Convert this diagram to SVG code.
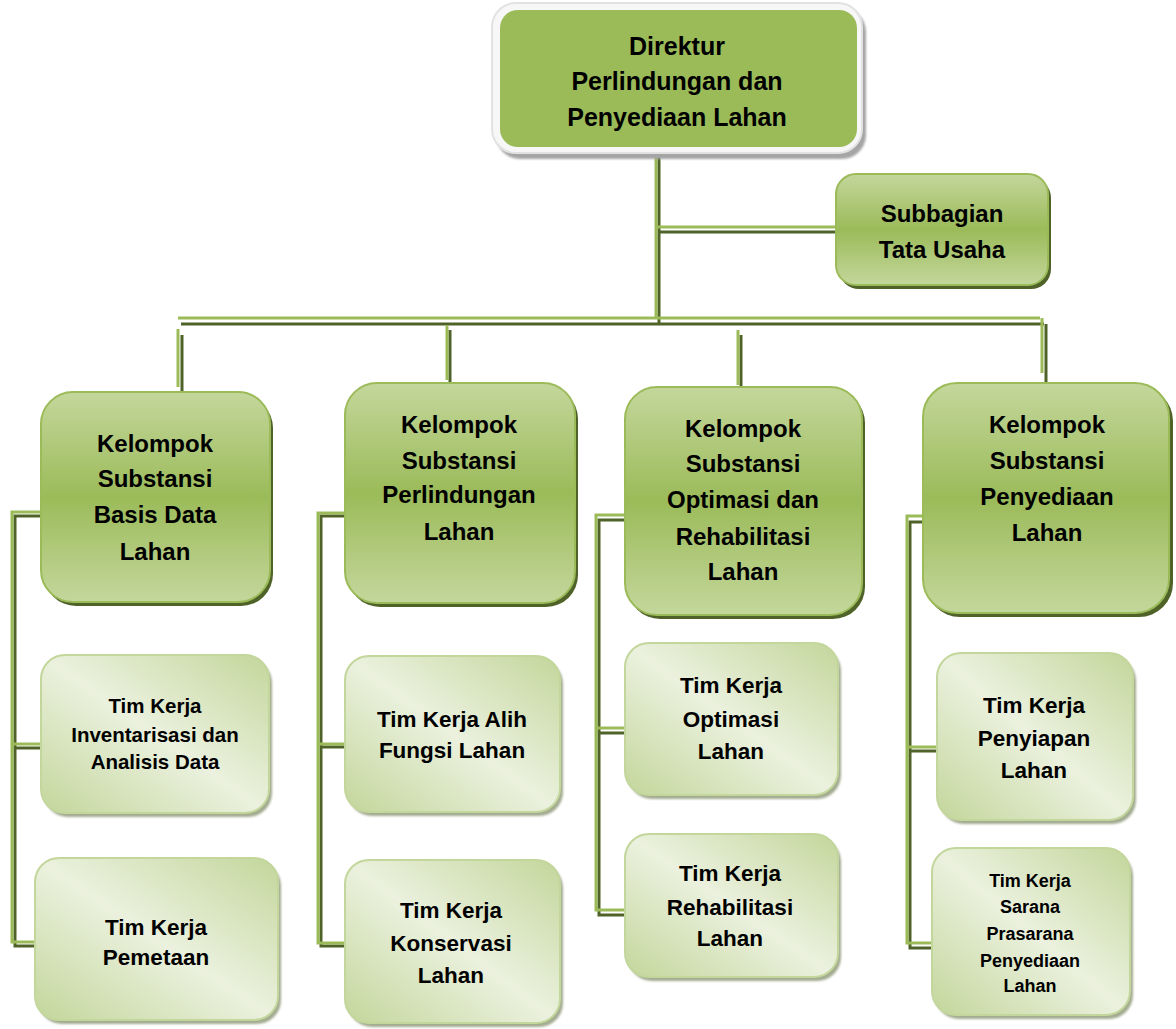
<svg xmlns="http://www.w3.org/2000/svg" width="1176" height="1029" viewBox="0 0 1176 1029">
<defs>
<linearGradient id="gK" x1="0" y1="0" x2="0" y2="1">
<stop offset="0" stop-color="#c4d79c"/>
<stop offset="0.5" stop-color="#9bbb59"/>
<stop offset="1" stop-color="#c4d79c"/>
</linearGradient>
<linearGradient id="gT" x1="1" y1="0" x2="0" y2="1">
<stop offset="0" stop-color="#c3d69b"/>
<stop offset="0.5" stop-color="#ebf1de"/>
<stop offset="1" stop-color="#c3d69b"/>
</linearGradient>
<filter id="blur" x="-10%" y="-10%" width="120%" height="120%"><feGaussianBlur stdDeviation="1"/></filter>
</defs>
<style>
text{font-family:"Liberation Sans",Arial,sans-serif;font-weight:bold;fill:#000;text-anchor:middle}
.k{fill:url(#gK);stroke:#9bbb59;stroke-width:2}
.ks{fill:#4f6228}
.t{fill:url(#gT);stroke:#c3d69b;stroke-width:2}
.ts{fill:#a3ab90;filter:url(#blur)}
.lt{fill:none;stroke:#9bbb59;stroke-width:3}
.dk{fill:none;stroke:#4f6228;stroke-width:3}
.f25{font-size:25px}.f24{font-size:24px}.f22{font-size:22.5px}.f20{font-size:20.5px}.f18{font-size:18px}
</style>

<g id="connectors">
<g class="dk">
<path d="M659,151 V324"/>
<path d="M659,232 H836"/>
<path d="M181,324 H1044"/>
<path d="M182,335 V392"/>
<path d="M450,330 V386"/>
<path d="M741,335 V392"/>
<path d="M1046,324 V383"/>
<path d="M43,516 H15 V946 H36 M15,748 H41"/>
<path d="M345,516 H321 V946 H345 M321,747 H345"/>
<path d="M625,520 H599 V915 H625 M599,733 H625"/>
<path d="M923,522 H910 V948 H932 M910,751 H937"/>
</g>
<g class="lt">
<path d="M656,147 V318"/>
<path d="M656,227 H836"/>
<path d="M178,318 H1040"/>
<path d="M178,329 V387"/>
<path d="M447,325 V380"/>
<path d="M738,330 V385"/>
<path d="M1042,318 V373"/>
<path d="M41,512 H12 V942 H36 M12,744 H41"/>
<path d="M345,513 H318 V943 H345 M318,744 H345"/>
<path d="M625,515 H596 V910 H625 M596,728 H625"/>
<path d="M923,516 H907 V943 H932 M907,747 H937"/>
</g>
</g>

<g id="direktur">
<rect x="496" y="8" width="370" height="151" rx="24" fill="#a5a5a5" filter="url(#blur)"/>
<rect x="492" y="3" width="370" height="150" rx="24" fill="#f7f7f7" stroke="#e2e2e2" stroke-width="2"/>
<rect x="500" y="10" width="357" height="137" rx="18" fill="#9bbb59"/>
<text class="f25" x="677" y="55">Direktur</text>
<text class="f25" x="677" y="90">Perlindungan dan</text>
<text class="f25" x="677" y="126">Penyediaan Lahan</text>
</g>

<g id="subbagian">
<rect class="ks" x="839" y="178" width="212" height="111" rx="20"/>
<rect class="k" x="836" y="174" width="212" height="111" rx="20"/>
<text class="f24" x="942" y="222">Subbagian</text>
<text class="f24" x="942" y="258">Tata Usaha</text>
</g>

<g id="kelompok-basis-data">
<rect class="ks" x="44" y="396" width="229" height="210" rx="32"/>
<rect class="k" x="41" y="392" width="229" height="210" rx="32"/>
<text class="f24" x="155" y="452">Kelompok</text>
<text class="f24" x="155" y="487">Substansi</text>
<text class="f24" x="155" y="523">Basis Data</text>
<text class="f24" x="155" y="560">Lahan</text>
</g>

<g id="kelompok-perlindungan">
<rect class="ks" x="348" y="387" width="230" height="220" rx="32"/>
<rect class="k" x="345" y="383" width="230" height="220" rx="32"/>
<text class="f24" x="459" y="433">Kelompok</text>
<text class="f24" x="459" y="469">Substansi</text>
<text class="f24" x="459" y="503">Perlindungan</text>
<text class="f24" x="459" y="540">Lahan</text>
</g>

<g id="kelompok-optimasi">
<rect class="ks" x="628" y="391" width="237" height="228" rx="32"/>
<rect class="k" x="625" y="387" width="237" height="228" rx="32"/>
<text class="f24" x="743" y="437">Kelompok</text>
<text class="f24" x="743" y="472">Substansi</text>
<text class="f24" x="743" y="508">Optimasi dan</text>
<text class="f24" x="743" y="545">Rehabilitasi</text>
<text class="f24" x="743" y="580">Lahan</text>
</g>

<g id="kelompok-penyediaan">
<rect class="ks" x="926" y="387" width="247" height="230" rx="34"/>
<rect class="k" x="923" y="383" width="246" height="230" rx="34"/>
<text class="f24" x="1047" y="433">Kelompok</text>
<text class="f24" x="1047" y="469">Substansi</text>
<text class="f24" x="1047" y="505">Penyediaan</text>
<text class="f24" x="1047" y="541">Lahan</text>
</g>

<g id="tim-inventarisasi">
<rect class="ts" x="44" y="659" width="228" height="158" rx="24"/>
<rect class="t" x="41" y="655" width="228" height="158" rx="24"/>
<text class="f20" x="155" y="713">Tim Kerja</text>
<text class="f20" x="155" y="742">Inventarisasi dan</text>
<text class="f20" x="155" y="769">Analisis Data</text>
</g>

<g id="tim-pemetaan">
<rect class="ts" x="38" y="862" width="243" height="162" rx="24"/>
<rect class="t" x="35" y="858" width="243" height="162" rx="24"/>
<text class="f22" x="156" y="935">Tim Kerja</text>
<text class="f22" x="156" y="965">Pemetaan</text>
</g>

<g id="tim-alih-fungsi">
<rect class="ts" x="348" y="660" width="215" height="156" rx="24"/>
<rect class="t" x="345" y="656" width="215" height="156" rx="24"/>
<text class="f22" x="452" y="727">Tim Kerja Alih</text>
<text class="f22" x="452" y="758">Fungsi Lahan</text>
</g>

<g id="tim-konservasi">
<rect class="ts" x="348" y="864" width="215" height="163" rx="24"/>
<rect class="t" x="345" y="860" width="215" height="163" rx="24"/>
<text class="f22" x="451" y="918">Tim Kerja</text>
<text class="f22" x="451" y="951">Konservasi</text>
<text class="f22" x="451" y="983">Lahan</text>
</g>

<g id="tim-optimasi">
<rect class="ts" x="628" y="647" width="213" height="152" rx="24"/>
<rect class="t" x="625" y="643" width="213" height="152" rx="24"/>
<text class="f22" x="731" y="693">Tim Kerja</text>
<text class="f22" x="731" y="727">Optimasi</text>
<text class="f22" x="731" y="759">Lahan</text>
</g>

<g id="tim-rehabilitasi">
<rect class="ts" x="628" y="838" width="213" height="143" rx="24"/>
<rect class="t" x="625" y="834" width="213" height="143" rx="24"/>
<text class="f22" x="730" y="881">Tim Kerja</text>
<text class="f22" x="730" y="915">Rehabilitasi</text>
<text class="f22" x="730" y="946">Lahan</text>
</g>

<g id="tim-penyiapan">
<rect class="ts" x="940" y="657" width="196" height="167" rx="24"/>
<rect class="t" x="937" y="653" width="196" height="167" rx="24"/>
<text class="f22" x="1034" y="713">Tim Kerja</text>
<text class="f22" x="1034" y="746">Penyiapan</text>
<text class="f22" x="1034" y="778">Lahan</text>
</g>

<g id="tim-sarana">
<rect class="ts" x="935" y="852" width="198" height="167" rx="24"/>
<rect class="t" x="932" y="848" width="198" height="167" rx="24"/>
<text class="f18" x="1030" y="887">Tim Kerja</text>
<text class="f18" x="1030" y="913">Sarana</text>
<text class="f18" x="1030" y="940">Prasarana</text>
<text class="f18" x="1030" y="967">Penyediaan</text>
<text class="f18" x="1030" y="992">Lahan</text>
</g>
</svg>
